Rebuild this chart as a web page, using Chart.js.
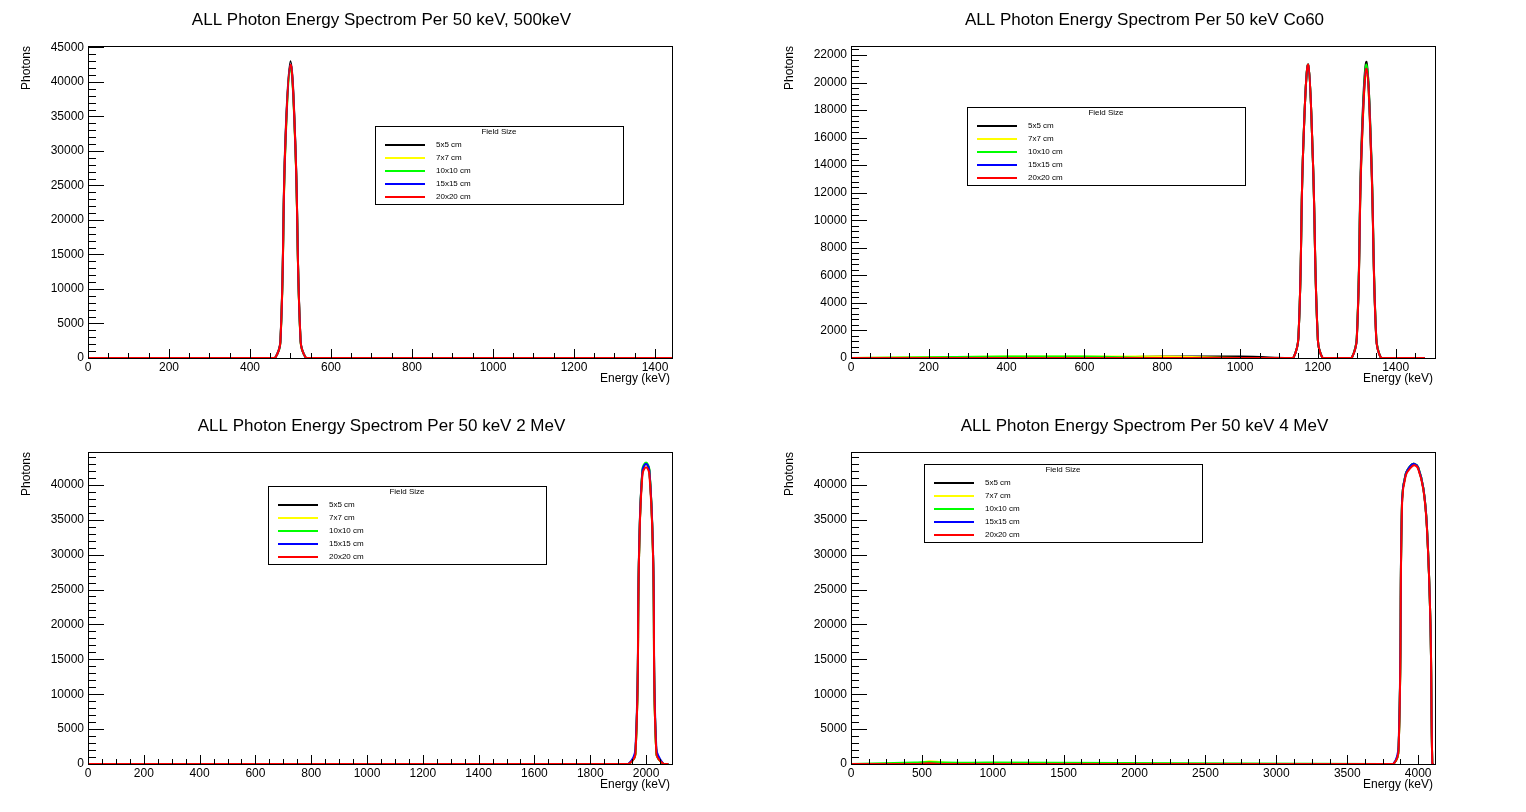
<!DOCTYPE html>
<html>
<head>
<meta charset="utf-8">
<script src="https://cdn.jsdelivr.net/npm/chart.js@4.4.1/dist/chart.umd.min.js"></script>
<style>
  body { margin: 0; background: #fff; }
  .pad { position: absolute; width: 763px; height: 406px; }
</style>
</head>
<body>
<div class="pad" style="left:0;top:0"><canvas id="c0"></canvas></div>
<div class="pad" style="left:763px;top:0"><canvas id="c1"></canvas></div>
<div class="pad" style="left:0;top:406px"><canvas id="c2"></canvas></div>
<div class="pad" style="left:763px;top:406px"><canvas id="c3"></canvas></div>
<script>
// Legend entries shared by all pads
const seriesNames = ['5x5 cm', '7x7 cm', '10x10 cm', '15x15 cm', '20x20 cm'];
const seriesColors = ['#000000', '#ffff00', '#00ff00', '#0000ff', '#ff0000'];

// Pad 1: 500 keV
const energy500 = [0, 450, 462, 475, 487, 500, 512, 525, 538, 550, 1475];
const counts500 = [
  [0, 0, 0, 2500, 31000, 43000, 31000, 2500, 0, 0, 0],
  [0, 0, 0, 2200, 30000, 42300, 30500, 2300, 0, 0, 0],
  [0, 0, 0, 2200, 30000, 42000, 30500, 2300, 0, 0, 0],
  [0, 0, 0, 2300, 30500, 42500, 30800, 2400, 0, 0, 0],
  [0, 0, 0, 2300, 30500, 42500, 30800, 2400, 0, 0, 0]
];

// Pad 2: Co60
const energyCo = [0, 400, 600, 800, 1000, 1125, 1137, 1150, 1162, 1175, 1187, 1200, 1212, 1225,
                  1275, 1287, 1300, 1312, 1325, 1337, 1350, 1362, 1375, 1387, 1475];
const countsCo = [
  [0, 0, 0, 100, 100, 0, 0, 1500, 15000, 21300, 14500, 1300, 0, 0, 0, 0, 1500, 15500, 21500, 15000, 1500, 0, 0, 0, 0],
  [0, 100, 100, 100, 0, 0, 0, 1500, 15000, 21300, 14500, 1300, 0, 0, 0, 0, 1400, 14500, 20500, 14500, 1400, 0, 0, 0, 0],
  [0, 100, 100, 0, 0, 0, 0, 1500, 15000, 21300, 14500, 1300, 0, 0, 0, 0, 1500, 15000, 21300, 14800, 1500, 0, 0, 0, 0],
  [0, 0, 0, 0, 0, 0, 0, 1500, 15000, 21300, 14500, 1300, 0, 0, 0, 0, 1400, 14800, 21000, 14600, 1400, 0, 0, 0, 0],
  [0, 0, 0, 0, 0, 0, 0, 1500, 15000, 21300, 14500, 1300, 0, 0, 0, 0, 1400, 14800, 21000, 14600, 1400, 0, 0, 0, 0]
];

// Pad 3: 2 MeV
const energy2M = [0, 1900, 1937, 1962, 1975, 1987, 2000, 2012, 2025, 2037, 2062, 2080];
const counts2M = [
  [0, 0, 0, 1500, 30000, 42000, 43000, 42000, 30000, 1500, 0, 0],
  [0, 0, 0, 1500, 30000, 42000, 43000, 42000, 30000, 1500, 0, 0],
  [0, 0, 0, 1500, 30000, 42200, 43200, 42200, 30000, 1500, 0, 0],
  [0, 0, 0, 2200, 30500, 42000, 43000, 42000, 30500, 2200, 0, 0],
  [0, 0, 0, 1500, 30000, 41500, 42500, 41500, 30000, 1500, 0, 0]
];

// Pad 4: 4 MeV
const energy4M = [0, 450, 550, 650, 1000, 3750, 3825, 3862, 3887, 3912, 3950, 3975, 4000, 4037, 4062, 4087, 4100, 4110];
const counts4M = [
  [0, 0, 200, 0, 0, 0, 0, 2000, 38000, 41500, 42800, 43000, 42500, 39500, 34000, 20000, 0, 0],
  [0, 0, 400, 200, 0, 0, 0, 2000, 38000, 41500, 42800, 43000, 42500, 39500, 34000, 20000, 0, 0],
  [0, 200, 300, 200, 200, 0, 0, 2000, 38000, 41500, 42800, 43000, 42500, 39500, 34000, 20000, 0, 0],
  [0, 0, 0, 0, 0, 0, 0, 2600, 38000, 41500, 42800, 43000, 42500, 39500, 34000, 20000, 0, 0],
  [0, 0, 100, 0, 0, 0, 0, 2000, 37500, 41300, 42500, 42800, 42300, 39300, 33800, 20000, 0, 0]
];

const pads = [
  { id: 'c0', title: 'ALL Photon Energy Spectrom Per 50 keV, 500keV', x: energy500, y: counts500,
    xmax: 1442, ymax: 45200, xstep: 200, ystep: 5000, legend: [375, 126], legendW: 248 },
  { id: 'c1', title: 'ALL Photon Energy Spectrom Per 50 keV Co60', x: energyCo, y: countsCo,
    xmax: 1501, ymax: 22650, xstep: 200, ystep: 2000, legend: [204, 107], legendW: 278 },
  { id: 'c2', title: 'ALL Photon Energy Spectrom Per 50 keV 2 MeV', x: energy2M, y: counts2M,
    xmax: 2093, ymax: 44700, xstep: 200, ystep: 5000, legend: [268, 80], legendW: 278 },
  { id: 'c3', title: 'ALL Photon Energy Spectrom Per 50 keV 4 MeV', x: energy4M, y: counts4M,
    xmax: 4119, ymax: 44700, xstep: 500, ystep: 5000, legend: [161, 58], legendW: 278 }
];

// ROOT-like frame, inward ticks, titles and legend box
const rootPad = {
  id: 'rootPad',
  afterDraw(chart, args, opts) {
    const { ctx, chartArea: a, scales: { x, y } } = chart;
    ctx.save();
    ctx.strokeStyle = '#000';
    ctx.lineWidth = 1;
    ctx.strokeRect(a.left + 0.5, a.top + 0.5, a.right - a.left, a.bottom - a.top);
    ctx.beginPath();
    const xm = opts.xstep / 4;
    for (let v = 0; v <= x.max; v += xm) {
      const px = Math.round(x.getPixelForValue(v)) + 0.5;
      const len = (Math.abs(v / opts.xstep - Math.round(v / opts.xstep)) < 1e-6) ? 9 : 5;
      ctx.moveTo(px, a.bottom); ctx.lineTo(px, a.bottom - len);
    }
    const ym = opts.ystep / 5;
    for (let v = 0; v <= y.max; v += ym) {
      const py = Math.round(y.getPixelForValue(v)) + 0.5;
      const len = (Math.abs(v / opts.ystep - Math.round(v / opts.ystep)) < 1e-6) ? 16 : 8;
      ctx.moveTo(a.left, py); ctx.lineTo(a.left + len, py);
    }
    ctx.stroke();

    ctx.fillStyle = '#000';
    ctx.font = '17px "Liberation Sans", Arial';
    ctx.textAlign = 'center';
    ctx.textBaseline = 'middle';
    ctx.fillText(opts.title, chart.width / 2, 20);
    ctx.font = '12px "Liberation Sans", Arial';
    ctx.textAlign = 'right';
    ctx.fillText('Energy (keV)', a.right - 2, a.bottom + 21);
    ctx.save();
    ctx.translate(27, a.top);
    ctx.rotate(-Math.PI / 2);
    ctx.fillText('Photons', 0, 0);
    ctx.restore();

    // legend
    const [lx, ly] = opts.legend;
    const lw = opts.legendW, lh = 78;
    ctx.fillStyle = '#fff';
    ctx.fillRect(lx, ly, lw, lh);
    ctx.strokeRect(lx + 0.5, ly + 0.5, lw, lh);
    ctx.fillStyle = '#000';
    ctx.font = '8px "Liberation Sans", Arial';
    ctx.textAlign = 'center';
    ctx.fillText('Field Size', lx + lw / 2, ly + 6);
    ctx.textAlign = 'left';
    seriesNames.forEach((n, i) => {
      const ry = ly + 19 + i * 13;
      ctx.strokeStyle = seriesColors[i];
      ctx.lineWidth = 2;
      ctx.beginPath(); ctx.moveTo(lx + 10, ry); ctx.lineTo(lx + 50, ry); ctx.stroke();
      ctx.fillStyle = '#000';
      ctx.fillText(n, lx + 61, ry);
    });
    ctx.restore();
  }
};

// only the round major ticks, like ROOT
function roundTicks(step) {
  return s => {
    const t = [];
    for (let v = 0; v <= s.max + 1e-9; v += step) t.push({ value: v });
    s.ticks = t;
  };
}

pads.forEach(p => {
  // first dataset is drawn on top in Chart.js, so put 20x20 (red) first
  const datasets = seriesNames.map((n, i) => ({
    label: n,
    data: p.x.map((e, j) => ({ x: e, y: p.y[i][j] })),
    borderColor: seriesColors[i],
    borderWidth: 2,
    pointRadius: 0,
    tension: 0.4,
    fill: false
  })).reverse();
  new Chart(document.getElementById(p.id), {
    type: 'line',
    data: { datasets: datasets },
    options: {
      responsive: true,
      maintainAspectRatio: false,
      animation: false,
      layout: { padding: { left: 0, top: 46, right: 91, bottom: 0 } },
      plugins: {
        legend: { display: false },
        tooltip: { enabled: false },
        rootPad: { title: p.title, xstep: p.xstep, ystep: p.ystep,
                   legend: p.legend, legendW: p.legendW }
      },
      scales: {
        x: {
          type: 'linear', min: 0, max: p.xmax,
          grid: { display: false, drawTicks: false },
          border: { display: false },
          afterBuildTicks: roundTicks(p.xstep),
          ticks: { padding: 2, color: '#000', autoSkip: false, maxRotation: 0,
                   font: { family: 'Liberation Sans', size: 12 },
                   callback: v => String(v) },
          afterFit: s => { s.height = 48; }
        },
        y: {
          min: 0, max: p.ymax,
          grid: { display: false, drawTicks: false },
          border: { display: false },
          afterBuildTicks: roundTicks(p.ystep),
          ticks: { padding: 4, color: '#000', autoSkip: false,
                   font: { family: 'Liberation Sans', size: 12 },
                   callback: v => String(v) },
          afterFit: s => { s.width = 88; }
        }
      }
    },
    plugins: [rootPad]
  });
});
</script>
</body>
</html>
